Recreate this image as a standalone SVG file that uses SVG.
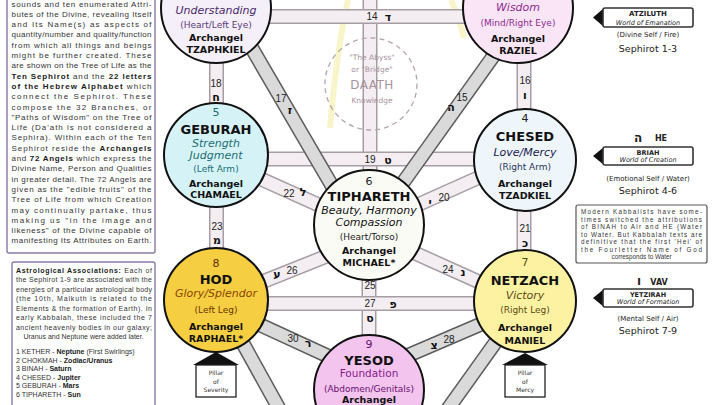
<svg xmlns="http://www.w3.org/2000/svg" xmlns:xlink="http://www.w3.org/1999/xlink" width="720" height="405" viewBox="0 0 720 405">
<style>
.n text{font-family:"DejaVu Sans",sans-serif;text-anchor:middle}
.circ{stroke:#111;stroke-width:2}
.nm{font-weight:bold;font-size:13px;fill:#111}
.at{font-style:italic;font-size:11px}
.pr{font-size:9px}
.ar{font-weight:bold;font-size:9.5px;fill:#111}
.num{font-size:11px}
.bo{fill:none;stroke:#a69ca3;stroke-width:15}
.bi{fill:none;stroke:#f4eef2;stroke-width:12}
.do{fill:none;stroke:#5c5c5c;stroke-width:15}
.di{fill:none;stroke:#dadada;stroke-width:12}
.lbl text{font-family:"Liberation Sans",sans-serif;font-size:10px;fill:#222;text-anchor:middle}
.lbl .h{font-family:"DejaVu Sans",sans-serif;font-weight:bold;font-size:11px;fill:#111}
.para{font-family:"Liberation Sans",sans-serif;fill:#333}
.para .b{font-weight:bold;fill:#1a1a1a}
.box{fill:#fff;stroke:#8a7aa8;stroke-width:1.4}
.w text{font-family:"DejaVu Sans",sans-serif;text-anchor:middle;fill:#222}
.wb{fill:#fff;stroke:#333;stroke-width:1.6}
.pil text{font-family:"DejaVu Sans",sans-serif;font-size:6px;text-anchor:middle;fill:#333}
.daath text{font-family:"DejaVu Sans",sans-serif;text-anchor:middle;fill:#a8929c}
</style>
<defs>
<path id="p13" d="M370 -10V225"/>
<path id="p25" d="M369 225V390"/>
<path id="p16" d="M524 8V160"/>
<path id="p21" d="M524 160V301"/>
<path id="p18" d="M216.5 8V155"/>
<path id="p23" d="M216.5 155V300"/>
<path id="p14" d="M216 16.5H518"/>
<path id="p19" d="M216 159H525"/>
<path id="p27" d="M216 303.5H525"/>
<path id="p15" d="M512 30L387 205"/>
<path id="p17" d="M240 28L345 208"/>
<path id="p20" d="M500 168L395 215"/>
<path id="p22" d="M240 169.5L345 216.8"/>
<path id="p24" d="M380 237.4L500 291.4"/>
<path id="p26" d="M240 290.8L345 248.8"/>
<path id="p28" d="M395 361L500 316"/>
<path id="p30" d="M240 315.6L340 361.6"/>
<path id="p31" d="M230 320L287 423"/>
<path id="p29" d="M510 322L440 420"/>
</defs>
<rect width="720" height="405" fill="#fff"/>
<g id="halo" fill="none" stroke="#f6f1b4" stroke-width="6" opacity="0.7">
<path d="M348 0Q336 55 330 128"/>
<path d="M451 0Q459 18 464 38"/>
</g>
<g id="connectors">
<use xlink:href="#p13" class="bo"/><use xlink:href="#p13" class="bi"/>
<use xlink:href="#p25" class="bo"/><use xlink:href="#p25" class="bi"/>
<use xlink:href="#p16" class="bo"/><use xlink:href="#p16" class="bi"/>
<use xlink:href="#p21" class="bo"/><use xlink:href="#p21" class="bi"/>
<use xlink:href="#p18" class="bo"/><use xlink:href="#p18" class="bi"/>
<use xlink:href="#p23" class="bo"/><use xlink:href="#p23" class="bi"/>
<use xlink:href="#p14" class="bo"/><use xlink:href="#p14" class="bi"/>
<use xlink:href="#p19" class="bo"/><use xlink:href="#p19" class="bi"/>
<use xlink:href="#p27" class="bo"/><use xlink:href="#p27" class="bi"/>
<use xlink:href="#p15" class="do"/><use xlink:href="#p15" class="di"/>
<use xlink:href="#p17" class="do"/><use xlink:href="#p17" class="di"/>
<use xlink:href="#p20" class="bo"/><use xlink:href="#p20" class="bi"/>
<use xlink:href="#p22" class="bo"/><use xlink:href="#p22" class="bi"/>
<use xlink:href="#p24" class="bo"/><use xlink:href="#p24" class="bi"/>
<use xlink:href="#p26" class="bo"/><use xlink:href="#p26" class="bi"/>
<use xlink:href="#p28" class="do"/><use xlink:href="#p28" class="di"/>
<use xlink:href="#p30" class="do"/><use xlink:href="#p30" class="di"/>
<use xlink:href="#p31" class="do"/><use xlink:href="#p31" class="di"/>
<use xlink:href="#p29" class="do"/><use xlink:href="#p29" class="di"/>
</g>
<g id="path-labels" class="lbl">
<text x="372" y="20">14</text><text class="h" x="388" y="21">ד</text>
<text x="462" y="101">15</text><text class="h" x="451" y="111">ה</text>
<text x="525" y="84">16</text><text class="h" x="525" y="99">ו</text>
<text x="281" y="102">17</text><text class="h" x="290" y="114">ז</text>
<text x="216" y="87">18</text><text class="h" x="216" y="101">ח</text>
<text x="370" y="163">19</text><text class="h" x="388" y="164">ט</text>
<text x="444" y="201">20</text><text class="h" x="430" y="206">י</text>
<text x="525" y="232">21</text><text class="h" x="525" y="247">כ</text>
<text x="289" y="197">22</text><text class="h" x="303" y="196">ל</text>
<text x="217" y="230">23</text><text class="h" x="217" y="244">מ</text>
<text x="448" y="273">24</text><text class="h" x="463" y="276">נ</text>
<text x="370" y="289">25</text><text class="h" x="370" y="322">ס</text>
<text x="292" y="274">26</text><text class="h" x="277" y="278">ע</text>
<text x="370" y="307">27</text><text class="h" x="393" y="308">פ</text>
<text x="449" y="343">28</text><text class="h" x="434" y="349">צ</text>
<text x="293" y="342">30</text><text class="h" x="308" y="347">ר</text>
</g>
<g id="daath" class="daath">
<circle cx="371" cy="84" r="46" fill="none" stroke="#b4a4ac" stroke-width="1.3" stroke-dasharray="5 4"/>
<text x="372" y="60" font-size="7.5">"The Abyss"</text>
<text x="372" y="72" font-size="7.5">or "Bridge"</text>
<text x="372" y="89" font-size="12" letter-spacing="0.5">DAATH</text>
<text x="372" y="103" font-size="7.5">Knowledge</text>
</g>
<g id="binah" class="n">
<circle class="circ" cx="216" cy="8" r="55" fill="#f5eff9"/>
<text class="at" x="216" y="14" font-size="11.5" fill="#4a2a6a">Understanding</text>
<text class="pr" x="216" y="28" fill="#5a3a7a">(Heart/Left Eye)</text>
<text class="ar" x="216" y="41">Archangel</text>
<text class="ar" x="216" y="53">TZAPHKIEL</text>
</g>
<g id="chokmah" class="n">
<circle class="circ" cx="518" cy="8" r="55" fill="#f9e5f6"/>
<text class="at" x="518" y="11" fill="#8e2c8e">Wisdom</text>
<text class="pr" x="518" y="26" fill="#8e2c8e">(Mind/Right Eye)</text>
<text class="ar" x="518" y="42">Archangel</text>
<text class="ar" x="518" y="54">RAZIEL</text>
</g>
<g id="geburah" class="n">
<circle class="circ" cx="216" cy="155" r="52" fill="#d5f3f6"/>
<text class="num" x="216" y="116" fill="#1c6d74">5</text>
<text class="nm" x="216" y="134" fill="#0d2a30">GEBURAH</text>
<text class="at" x="216" y="147" fill="#1c6d74">Strength</text>
<text class="at" x="216" y="158.5" fill="#1c6d74">Judgment</text>
<text class="pr" x="216" y="171.5" fill="#1c6d74">(Left Arm)</text>
<text class="ar" x="216" y="186.5">Archangel</text>
<text class="ar" x="216" y="198">CHAMAEL</text>
</g>
<g id="chesed" class="n">
<circle class="circ" cx="525" cy="160" r="51" fill="#eef5fb"/>
<text class="num" x="525" y="122" fill="#222">4</text>
<text class="nm" x="525" y="141">CHESED</text>
<text class="at" x="525" y="156" fill="#1a2350">Love/Mercy</text>
<text class="pr" x="525" y="170" fill="#2a3560">(Right Arm)</text>
<text class="ar" x="525" y="186.5">Archangel</text>
<text class="ar" x="525" y="199">TZADKIEL</text>
</g>
<g id="tiphareth" class="n">
<circle class="circ" cx="369" cy="225" r="55" fill="#fbfbf5"/>
<text class="num" x="369" y="185" fill="#222">6</text>
<text class="nm" x="369" y="201" font-size="12.2">TIPHARETH</text>
<text class="at" x="369" y="214" font-size="10.3" fill="#111">Beauty, Harmony</text>
<text class="at" x="369" y="226" font-size="10.3" fill="#111">Compassion</text>
<text class="pr" x="369" y="240" font-size="8.5" fill="#222">(Heart/Torso)</text>
<text class="ar" x="369" y="254">Archangel</text>
<text class="ar" x="369" y="266">MICHAEL*</text>
</g>
<g id="hod" class="n">
<circle class="circ" cx="216" cy="300" r="52" fill="#f6ce42"/>
<text class="num" x="216" y="267" fill="#5a3000">8</text>
<text class="nm" x="216" y="284">HOD</text>
<text class="at" x="216" y="297" fill="#8a4500">Glory/Splendor</text>
<text class="pr" x="216" y="313" fill="#6a3500">(Left Leg)</text>
<text class="ar" x="216" y="330">Archangel</text>
<text class="ar" x="216" y="341.5">RAPHAEL*</text>
</g>
<g id="netzach" class="n">
<circle class="circ" cx="525" cy="301" r="51" fill="#fdf2a2"/>
<text class="num" x="525" y="266" fill="#5a4a10">7</text>
<text class="nm" x="525" y="285">NETZACH</text>
<text class="at" x="525" y="299" font-size="11.5" fill="#5a4a15">Victory</text>
<text class="pr" x="525" y="312.5" fill="#5a4a15">(Right Leg)</text>
<text class="ar" x="525" y="331">Archangel</text>
<text class="ar" x="525" y="343.5">MANIEL</text>
</g>
<g id="yesod" class="n">
<circle class="circ" cx="369" cy="390" r="55" fill="#f2c4ee"/>
<text class="num" x="369" y="348" fill="#6a1070">9</text>
<text class="nm" x="369" y="365" font-size="15">YESOD</text>
<text x="369" y="377" font-size="10.5" fill="#8a1a8a">Foundation</text>
<text class="pr" x="369" y="392" fill="#6a1070">(Abdomen/Genitals)</text>
<text class="ar" x="369" y="403" font-size="8.5">Archangel</text>
</g>
<g id="pillar-severity" class="pil">
<polygon points="216,352 193,365 239,365" fill="#111"/>
<rect x="196" y="365" width="40" height="32" fill="#fff" stroke="#222" stroke-width="1.3"/>
<text x="216" y="375">Pillar</text><text x="216" y="383.5">of</text><text x="216" y="392">Severity</text>
</g>
<g id="pillar-mercy" class="pil">
<polygon points="525,353 502,365 548,365" fill="#111"/>
<rect x="505" y="365" width="40" height="32" fill="#fff" stroke="#222" stroke-width="1.3"/>
<text x="525" y="375">Pillar</text><text x="525" y="383.5">of</text><text x="525" y="392">Mercy</text>
</g>
<g id="world-atziluth" class="w">
<polygon points="593,17.5 604,8 604,27" fill="#111"/>
<rect class="wb" x="603" y="8" width="90" height="19" rx="2"/>
<text x="648" y="16" font-size="7" font-weight="bold">ATZILUTH</text>
<text x="648" y="24.5" font-size="6.5" font-style="italic">World of Emanation</text>
<text x="648" y="37" font-size="7">(Divine Self / Fire)</text>
<text x="648" y="51.5" font-size="9.5">Sephirot 1-3</text>
</g>
<g id="world-briah" class="w">
<text x="638" y="142" font-size="12" font-weight="bold">ה</text>
<text x="661" y="141" font-size="8" font-weight="bold">HE</text>
<polygon points="593,156 604,147 604,165" fill="#111"/>
<rect class="wb" x="603" y="147" width="90" height="18" rx="2"/>
<text x="648" y="154.5" font-size="6.5" font-weight="bold">BRIAH</text>
<text x="648" y="162" font-size="6.5" font-style="italic">World of Creation</text>
<text x="648" y="180.5" font-size="7">(Emotional Self / Water)</text>
<text x="648" y="193.5" font-size="9.5">Sephirot 4-6</text>
</g>
<g id="note" class="para">
<rect x="576" y="205" width="131" height="58" rx="2" fill="#fff" stroke="#555" stroke-width="1.2"/>
<g font-size="6.3">
<text x="581" y="214" textLength="121" lengthAdjust="spacing">Modern Kabbalists have some-</text>
<text x="581" y="221.5" textLength="121" lengthAdjust="spacing">times switched the attributions</text>
<text x="581" y="229" textLength="121" lengthAdjust="spacing">of BINAH to Air and HE (Water</text>
<text x="581" y="236.5" textLength="121" lengthAdjust="spacing">to Water. But Kabbalah texts are</text>
<text x="581" y="244" textLength="121" lengthAdjust="spacing">definitive that the first 'Hei' of</text>
<text x="581" y="251.5" textLength="121" lengthAdjust="spacing">the Fourletter Name of God</text>
<text x="641.5" y="259" text-anchor="middle">corresponds to Water</text>
</g>
</g>
<g id="world-yetzirah" class="w">
<text x="639" y="285" font-size="12" font-weight="bold">ו</text>
<text x="659" y="284.5" font-size="8" font-weight="bold">VAV</text>
<polygon points="593,298 604,289 604,307" fill="#111"/>
<rect class="wb" x="603" y="289" width="90" height="18" rx="2"/>
<text x="648" y="296.5" font-size="6.5" font-weight="bold">YETZIRAH</text>
<text x="648" y="304" font-size="6.5" font-style="italic">World of Formation</text>
<text x="648" y="320.5" font-size="7">(Mental Self / Air)</text>
<text x="648" y="333.5" font-size="9.5">Sephirot 7-9</text>
</g>
<g id="intro-text" class="para">
<rect class="box" x="7" y="-6" width="148" height="259" rx="2"/>
<g font-size="8">
<text x="11.5" y="6.5" textLength="140" lengthAdjust="spacing">sounds and ten enumerated Attri-</text>
<text x="11.5" y="16.8" textLength="140" lengthAdjust="spacing">butes of the Divine, revealing Itself</text>
<text x="11.5" y="27.1" textLength="140" lengthAdjust="spacing">and Its Name(s) as aspects of</text>
<text x="11.5" y="37.4" textLength="140" lengthAdjust="spacing">quantity/number and quality/function</text>
<text x="11.5" y="47.7" textLength="140" lengthAdjust="spacing">from which all things and beings</text>
<text x="11.5" y="58" textLength="140" lengthAdjust="spacing">might be further created. These</text>
<text x="11.5" y="68.3" textLength="140" lengthAdjust="spacing">are shown on the Tree of Life as the</text>
<text x="11.5" y="78.6" textLength="140" lengthAdjust="spacing"><tspan class="b">Ten Sephirot</tspan> and the <tspan class="b">22 letters</tspan></text>
<text x="11.5" y="88.9" textLength="140" lengthAdjust="spacing"><tspan class="b">of the Hebrew Alphabet</tspan> which</text>
<text x="11.5" y="99.2" textLength="140" lengthAdjust="spacing">connect the Sephirot. These</text>
<text x="11.5" y="109.5" textLength="140" lengthAdjust="spacing">compose the 32 Branches, or</text>
<text x="11.5" y="119.8" textLength="140" lengthAdjust="spacing">"Paths of Wisdom" on the Tree of</text>
<text x="11.5" y="130.1" textLength="140" lengthAdjust="spacing">Life (Da'ath is not considered a</text>
<text x="11.5" y="140.4" textLength="140" lengthAdjust="spacing">Sephira). Within each of the Ten</text>
<text x="11.5" y="150.7" textLength="140" lengthAdjust="spacing">Sephirot reside the <tspan class="b">Archangels</tspan></text>
<text x="11.5" y="161" textLength="140" lengthAdjust="spacing">and <tspan class="b">72 Angels</tspan> which express the</text>
<text x="11.5" y="171.3" textLength="140" lengthAdjust="spacing">Divine Name, Person and Qualities</text>
<text x="11.5" y="181.6" textLength="140" lengthAdjust="spacing">in greater detail. The 72 Angels are</text>
<text x="11.5" y="191.9" textLength="140" lengthAdjust="spacing">given as the "edible fruits" of the</text>
<text x="11.5" y="202.2" textLength="140" lengthAdjust="spacing">Tree of Life from which Creation</text>
<text x="11.5" y="212.5" textLength="140" lengthAdjust="spacing">may continually partake, thus</text>
<text x="11.5" y="222.8" textLength="140" lengthAdjust="spacing">making us "in the image and</text>
<text x="11.5" y="233.1" textLength="140" lengthAdjust="spacing">likeness" of the Divine capable of</text>
<text x="11.5" y="243.4" textLength="140" lengthAdjust="spacing">manifesting Its Attributes on Earth.</text>
</g>
</g>
<g id="astro-text" class="para">
<rect class="box" x="12" y="262" width="143" height="160" rx="2"/>
<g font-size="7">
<text x="16" y="272.5" textLength="136" lengthAdjust="spacing"><tspan class="b">Astrological Associations:</tspan> Each of</text>
<text x="16" y="282" textLength="136" lengthAdjust="spacing">the Sephirot 1-9 are associated with the</text>
<text x="16" y="291.5" textLength="136" lengthAdjust="spacing">energies of a particular astrological body</text>
<text x="16" y="301" textLength="136" lengthAdjust="spacing">(the 10th, Malkuth is related to the</text>
<text x="16" y="310.5" textLength="136" lengthAdjust="spacing">Elements &amp; the formation of Earth). In</text>
<text x="16" y="320" textLength="136" lengthAdjust="spacing">early Kabbalah, these included the 7</text>
<text x="16" y="329.5" textLength="136" lengthAdjust="spacing">ancient heavenly bodies in our galaxy;</text>
<text x="83.5" y="339" text-anchor="middle">Uranus and Neptune were added later.</text>
<text x="16" y="354">1 KETHER - <tspan class="b">Neptune</tspan> (First Swirlings)</text>
<text x="16" y="362.6">2 CHOKMAH - <tspan class="b">Zodiac/Uranus</tspan></text>
<text x="16" y="371.2">3 BINAH - <tspan class="b">Saturn</tspan></text>
<text x="16" y="379.8">4 CHESED - <tspan class="b">Jupiter</tspan></text>
<text x="16" y="388.4">5 GEBURAH - <tspan class="b">Mars</tspan></text>
<text x="16" y="397">6 TIPHARETH - <tspan class="b">Sun</tspan></text>
</g>
</g>
</svg>
